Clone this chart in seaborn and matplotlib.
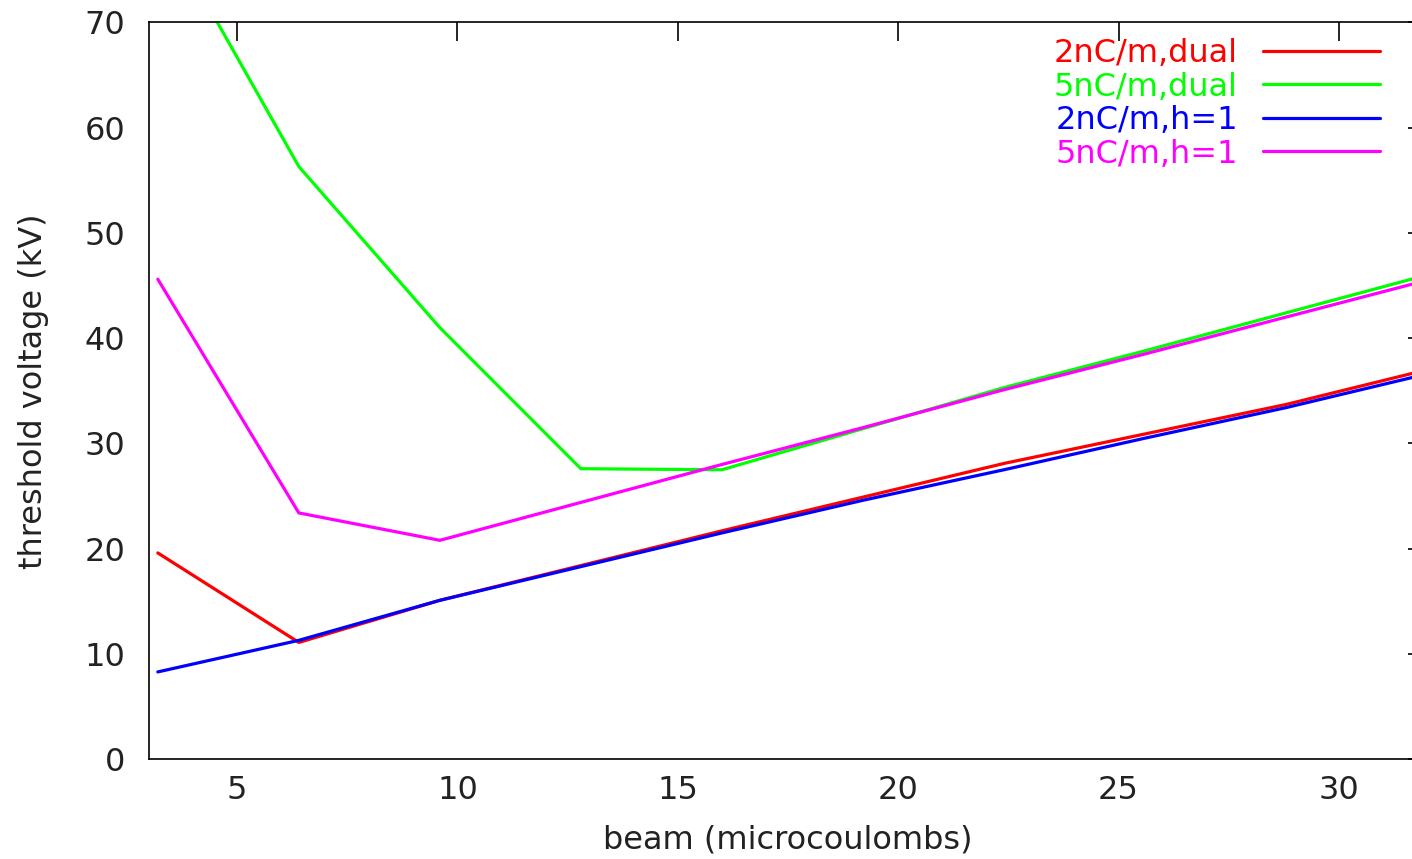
import numpy as np
import pandas as pd
import matplotlib
matplotlib.use("Agg")
import matplotlib.pyplot as plt
import seaborn as sns

# Beam charge (microcoulombs) at which each threshold was computed
beam = [3.2, 6.4, 9.6, 12.8, 16.0, 19.2, 22.4, 25.6, 28.8, 32.0]

# Threshold voltage (kV) for each configuration
red_2nc_dual = [19.6, 11.1, 15.1, 18.4, 21.7, 24.9, 28.1, 30.9, 33.7, 37.0]
green_5nc_dual = [80.0, 56.3, 41.0, 27.6, 27.5, 31.4, 35.3, 38.8, 42.4, 46.0]
blue_2nc_h1 = [8.3, 11.3, 15.1, 18.3, 21.5, 24.6, 27.5, 30.5, 33.4, 36.6]
magenta_5nc_h1 = [45.6, 23.4, 20.8, 24.4, 28.0, 31.5, 35.1, 38.5, 42.0, 45.5]

series_labels = ["2nC/m,dual", "5nC/m,dual", "2nC/m,h=1", "5nC/m,h=1"]
series_colors = ["#ff0000", "#00ff00", "#0000ff", "#ff00ff"]

x_ticks = [5, 10, 15, 20, 25, 30]
y_ticks = [0, 10, 20, 30, 40, 50, 60, 70]

frames = []
for label, values in zip(series_labels,
                         [red_2nc_dual, green_5nc_dual, blue_2nc_h1, magenta_5nc_h1]):
    frames.append(pd.DataFrame({"beam": beam, "voltage": values, "series": label}))
df = pd.concat(frames, ignore_index=True)

sns.set_style("white")
plt.rcParams["font.family"] = ["DejaVu Sans"]
FS = 23

W, H = 1412, 859
fig = plt.figure(figsize=(W / 100, H / 100), dpi=100)
# plot frame: left spine at 149 px, right spine just past the image edge
left, right = 149 / W, 1427 / W
bottom, top = (H - 759.3) / H, (H - 22.3) / H
ax = fig.add_axes([left, bottom, right - left, top - bottom])

sns.lineplot(data=df, x="beam", y="voltage", hue="series",
             hue_order=series_labels, palette=series_colors,
             linewidth=2.3, ax=ax, legend=False, sort=False)

ax.set_xlim(3, 32)
ax.set_ylim(0, 70)
ax.set_xticks(x_ticks)
ax.set_yticks(y_ticks)
ax.set_xticklabels([str(t) for t in x_ticks])
ax.set_yticklabels([str(t) for t in y_ticks])

for side in ["left", "right", "top", "bottom"]:
    ax.spines[side].set_visible(True)
    ax.spines[side].set_color("black")
    ax.spines[side].set_linewidth(1.2)

ax.tick_params(axis="both", which="major", direction="in", length=13.5,
               width=1.2, color="black", labelsize=FS, labelcolor="#222222",
               top=True, right=True)
ax.tick_params(axis="x", pad=11)
ax.tick_params(axis="y", pad=17)

ax.set_xlabel("beam (microcoulombs)", fontsize=FS, color="#222222")
ax.set_ylabel("threshold voltage (kV)", fontsize=FS, color="#222222")
ax.xaxis.set_label_coords((788 - 149) / 1278, -0.089)
ax.yaxis.set_label_coords((49 - 149) / 1278, 0.5)

# legend in gnuplot style: coloured text on the left, line sample on the right
handles = ax.get_lines()[:4]
leg = ax.legend(handles, series_labels, loc="upper right",
                bbox_to_anchor=(1380 / W, (H - 38) / H),
                bbox_transform=fig.transFigure, frameon=False,
                markerfirst=False, labelcolor="linecolor", fontsize=FS,
                handlelength=3.65, handletextpad=0.8, labelspacing=0.08,
                borderpad=0, borderaxespad=0)
for line in leg.get_lines():
    line.set_linewidth(2.3)

fig.savefig("out.png", dpi=100)
